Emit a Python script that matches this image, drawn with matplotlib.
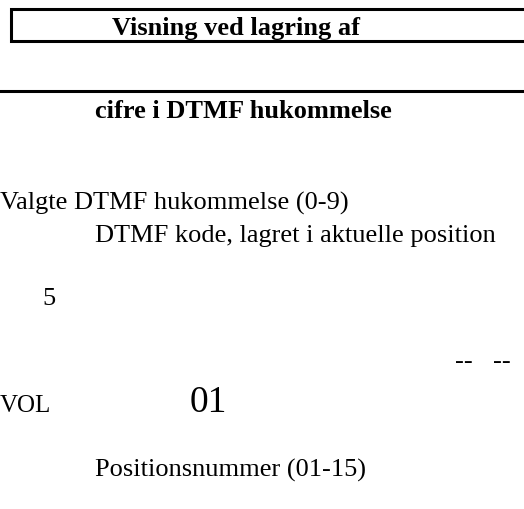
import matplotlib.pyplot as plt

# Tekster (pixels, y nedad, grundlinje)
labels = [
    "Visning ved lagring af",
    "cifre i DTMF hukommelse",
    "Valgte DTMF hukommelse (0-9)",
    "DTMF kode, lagret i aktuelle position",
    "5",
    "--",
    "--",
    "VOL",
    "01",
    "Positionsnummer (01-15)",
]
label_x = [112, 95, 0, 95, 42, 455, 493, 0, 190, 95]
label_y = [35.5, 117.5, 210, 242, 305, 368, 368, 412, 412, 477]
label_size = [19, 19, 19, 19, 19, 19, 19, 18, 27, 19]
label_bold = [True, True, False, False, False, False, False, False, False, False]

plt.rcParams['font.family'] = ['Liberation Serif', 'DejaVu Serif']

fig = plt.figure(figsize=(5.24, 5.10), dpi=100)
ax = fig.add_axes([0, 0, 1, 1])
ax.set_xlim(0, 524)
ax.set_ylim(510, 0)
ax.axis('off')

# Boks rundt om overskriften (åben mod højre)
ax.plot([530, 11, 11, 530], [9.5, 9.5, 41.5, 41.5], color='black', lw=2.2,
        solid_joinstyle='miter')

# Vandret linje
ax.plot([-5, 530], [91.5, 91.5], color='black', lw=2.2)

for t, x, y, s, b in zip(labels, label_x, label_y, label_size, label_bold):
    ax.text(x, y, t, fontsize=s, fontweight='bold' if b else 'normal',
            ha='left', va='baseline', color='black')

fig.savefig("out.png", dpi=100)
